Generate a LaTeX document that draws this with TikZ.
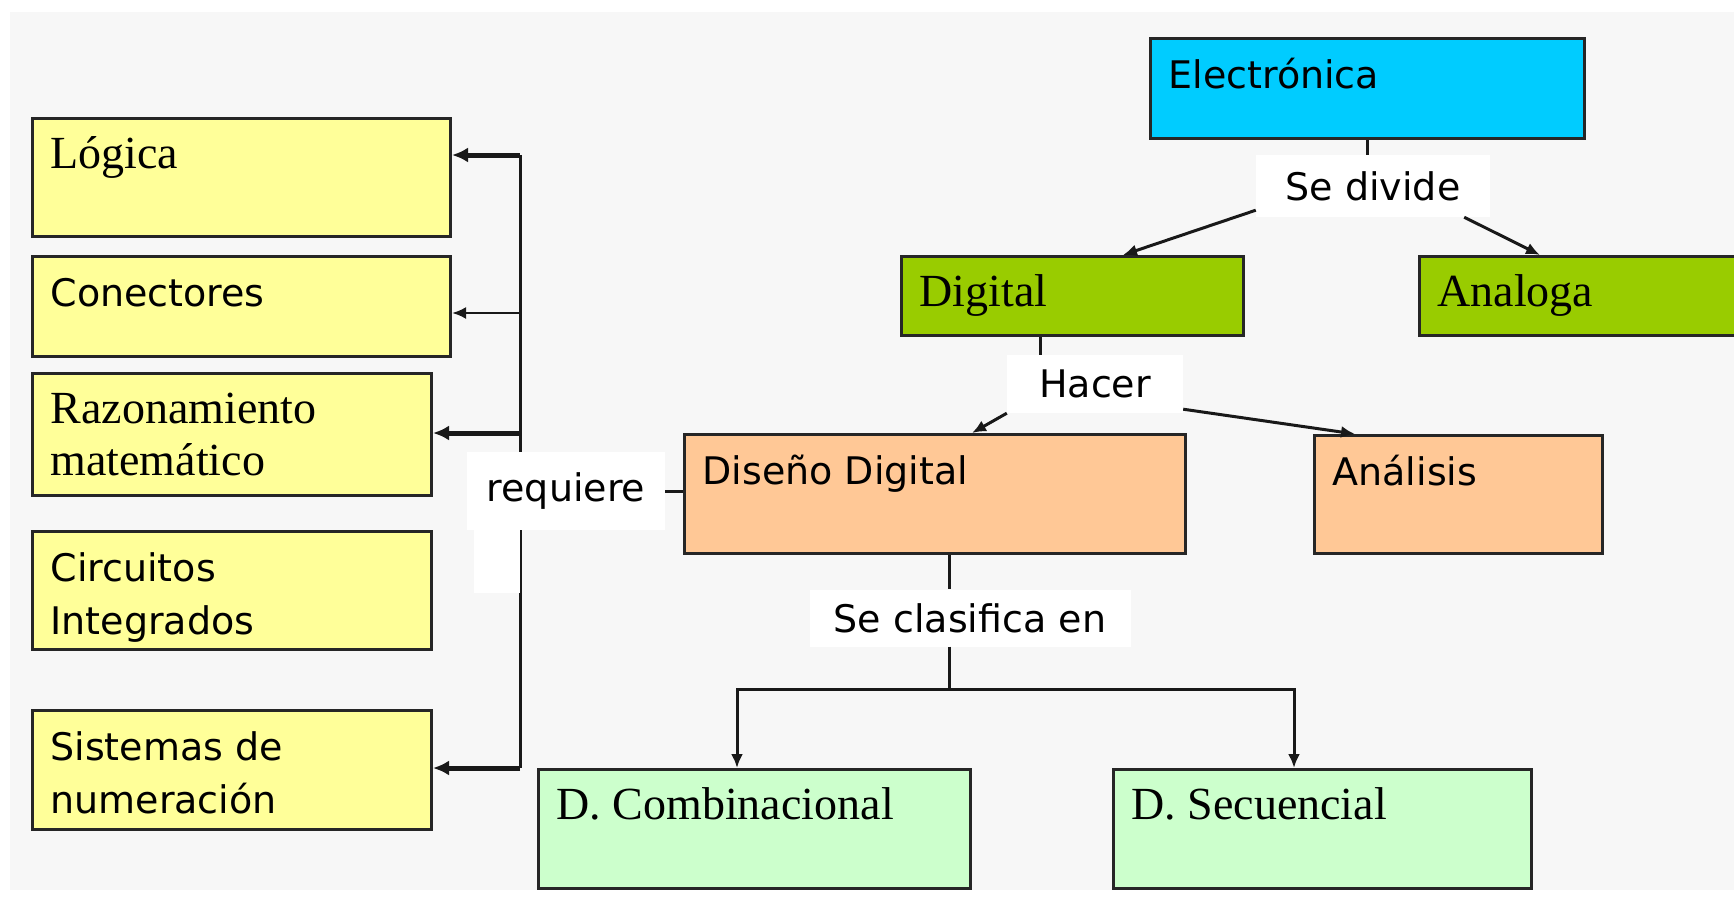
\documentclass[tikz,border=0pt]{standalone}
\usepackage{fontspec}
\setmainfont{Liberation Serif}
\newfontfamily\dejavu{DejaVu Sans}
\usetikzlibrary{arrows.meta}
\definecolor{bgrey}{HTML}{F7F7F7}
\definecolor{yel}{HTML}{FFFF99}
\definecolor{cyanbox}{HTML}{00CCFF}
\definecolor{greenbox}{HTML}{99CC00}
\definecolor{peach}{HTML}{FFC896}
\definecolor{mint}{HTML}{CCFFCC}
\newcommand{\serifbig}{\fontsize{46}{52}\selectfont}
\newcommand{\sansbig}{\dejavu\fontsize{38}{53}\selectfont}
\newcommand{\boxtext}[3]{\parbox[c][#2][t]{\dimexpr#1-36pt\relax}{\raggedright\rule{0pt}{50pt}#3}}

\begin{document}
\begin{tikzpicture}[x=1pt,y=-1pt,
      box/.style={draw=black!85, line width=3pt, anchor=north west, inner xsep=18pt, inner ysep=0pt},
      serifbox/.style={box, font=\serifbig},
      sansbox/.style={box, font=\sansbig},
      lbl/.style={fill=white, inner sep=0pt, font=\sansbig},
      conn/.style={line width=3pt, draw=black!90},
      arr/.style={conn, -{Latex[length=14pt,width=12pt]}},
      thickarr/.style={line width=5pt, draw=black!90, -{Latex[length=16pt,width=15pt]}},
      thinarr/.style={line width=2.5pt, draw=black!90, -{Latex[length=14pt,width=12pt]}}
      ]
      \clip (0,0) rectangle (1734,897);
      \fill[white] (0,0) rectangle (1734,897);
      \fill[bgrey] (10,12) rectangle (1734,890);

      % left column
      \node[serifbox, fill=yel] (logica) at (31,117) {\boxtext{418pt}{118pt}{Lógica}};
      \node[sansbox, fill=yel] (conectores) at (31,255) {\boxtext{418pt}{100pt}{Conectores}};
      \node[serifbox, fill=yel] (razonamiento) at (31,372) {\boxtext{399pt}{122pt}{Razonamiento\\matemático}};
      \node[sansbox, fill=yel] (circuitos) at (31,530) {\boxtext{399pt}{118pt}{Circuitos\\Integrados}};
      \node[sansbox, fill=yel] (sistemas) at (31,709) {\boxtext{399pt}{119pt}{Sistemas de\\numeración}};

      % tree
      \node[sansbox, fill=cyanbox] (electronica) at (1149,37) {\boxtext{434pt}{100pt}{Electrónica}};
      \node[serifbox, fill=greenbox] (digital) at (900,255) {\boxtext{342pt}{79pt}{Digital}};
      \node[serifbox, fill=greenbox] (analoga) at (1418,255) {\boxtext{330pt}{79pt}{Analoga}};
      \node[sansbox, fill=peach] (diseno) at (683,433) {\boxtext{501pt}{119pt}{Diseño Digital}};
      \node[sansbox, fill=peach] (analisis) at (1313,434) {\boxtext{288pt}{118pt}{Análisis}};
      \node[serifbox, fill=mint] (combinacional) at (537,768) {\boxtext{432pt}{119pt}{D. Combinacional}};
      \node[serifbox, fill=mint] (secuencial) at (1112,768) {\boxtext{418pt}{119pt}{D. Secuencial}};

      % requiere bus
      \coordinate (bustop) at (520,155);
      \coordinate (busc) at (520,313);
      \coordinate (busr) at (520,433);
      \coordinate (busbot) at (520,768);
      \draw[conn] (bustop) -- (busbot);
      \draw[thickarr] (bustop) -- (bustop -| logica.east);
      \draw[thinarr] (busc) -- (busc -| conectores.east);
      \draw[thickarr] (busr) -- (busr -| razonamiento.east);
      \draw[thickarr] (busbot) -- (busbot -| sistemas.east);

      % labels
      \fill[white] (474,528) rectangle (520,593);
      \node[lbl, minimum width=198pt, minimum height=78pt] (requiere) at (566,491) {requiere};
      \node[lbl, minimum width=234pt, minimum height=62pt] (sedivide) at (1373,186) {Se divide};
      \node[lbl, minimum width=176pt, minimum height=58pt] (hacer) at (1095,384) {Hacer};
      \node[lbl, minimum width=321pt, minimum height=57pt] (seclasifica) at (970,618) {Se clasifica en};

      \draw[conn] (requiere.east) -- (requiere.east -| diseno.west);

      \draw[conn] (electronica.south) -- (electronica.south |- sedivide.north);
      \draw[arr] ([yshift=7pt]sedivide.south west) -- ([xshift=223pt]digital.north west);
      \draw[arr] ([xshift=-26pt]sedivide.south east) -- ([xshift=122pt]analoga.north west);

      \coordinate (dstem) at ([xshift=140pt]digital.south west);
      \draw[conn] (dstem) -- (dstem |- hacer.north);
      \draw[arr] (hacer.south west) -- ([xshift=289pt]diseno.north west);
      \draw[arr] ([yshift=4pt]hacer.south east) -- ([xshift=42pt]analisis.north west);

      \coordinate (dsstem) at ([xshift=266pt]diseno.south west);
      \coordinate (split) at (949,689);
      \draw[conn] (dsstem) -- (dsstem |- seclasifica.north);
      \draw[conn] (split |- seclasifica.south) -- (split);
      \draw[arr] (split) -| ([xshift=200pt]combinacional.north west);
      \draw[arr] (split) -| ([xshift=182pt]secuencial.north west);
    \end{tikzpicture}
\end{document}
